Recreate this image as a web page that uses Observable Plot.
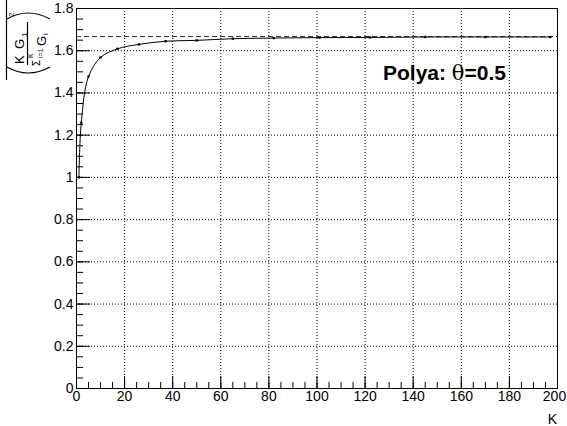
<!DOCTYPE html>
<html><head><meta charset="utf-8">
<script src="https://cdn.jsdelivr.net/npm/d3@7"></script>
<script src="https://cdn.jsdelivr.net/npm/@observablehq/plot@0.6"></script>
<style>body{margin:0;background:#fff;} #chart{position:relative;width:567px;height:426px;}</style>
</head><body><div id="chart"></div>
<script>
// Data
const K = [1, 2, 5, 10, 17, 26, 37, 50, 65, 82, 101, 122, 145, 170, 197];
const ratio = [1.000, 1.259, 1.478, 1.568, 1.609, 1.630, 1.645, 1.649, 1.657, 1.660, 1.662, 1.663, 1.665, 1.665, 1.665];
const limit = [1.667];
const xMajor = [0, 20, 40, 60, 80, 100, 120, 140, 160, 180, 200];
const xMinor = d3.range(0, 41).map(i => i * 5);
const yMajor = [0, 0.2, 0.4, 0.6, 0.8, 1.0, 1.2, 1.4, 1.6, 1.8];
const yMinor = d3.range(0, 37).map(i => +(i * 0.05).toFixed(2));

const W = 567, H = 426, mL = 76, mR = 10, mT = 8, mB = 38;
const font = "'Liberation Sans', Arial, Helvetica, sans-serif";
const data = K.map((k, i) => ({k, v: ratio[i]}));

const plot = Plot.plot({
  width: W, height: H,
  marginLeft: mL, marginRight: mR, marginTop: mT, marginBottom: mB,
  style: {fontFamily: font, fontSize: "14px", color: "#000", background: "#fff", overflow: "visible"},
  x: {domain: [0, 200], label: null},
  y: {domain: [0, 1.8], label: null},
  marks: [
    Plot.ruleX(xMajor.slice(1, -1), {stroke: "#000", strokeWidth: 1, strokeDasharray: "1,2"}),
    Plot.ruleY(yMajor.slice(1, -1), {stroke: "#000", strokeWidth: 1, strokeDasharray: "1,2"}),
    Plot.ruleY(limit, {stroke: "#333", strokeWidth: 1, strokeDasharray: "5,3"}),
    Plot.line(data, {x: "k", y: "v", curve: "catmull-rom", stroke: "#000", strokeWidth: 1}),
    Plot.dot(data, {x: "k", y: "v", r: 1.3, fill: "#000", stroke: "none", symbol: "square"}),
    Plot.frame({stroke: "#000", strokeWidth: 1}),
    Plot.axisX(xMajor, {tickSize: -12, fill: "none", label: null}),
    Plot.axisX(xMinor, {tickSize: -6, fill: "none", label: null}),
    Plot.axisX(xMajor.slice(0, -1), {tickSize: 0, tickPadding: 3, label: null, tickFormat: d => String(d)}),
    Plot.axisX(xMajor.slice(-1), {tickSize: 0, tickPadding: 3, dx: -3, label: null, tickFormat: d => String(d)}),
    Plot.axisY(yMajor, {tickSize: -14, fill: "none", label: null}),
    Plot.axisY(yMinor, {tickSize: -7, fill: "none", label: null}),
    Plot.axisY(yMajor, {tickSize: 0, tickPadding: 3, label: null, tickFormat: d => String(+d.toFixed(2))})
  ]
});

document.getElementById("chart").appendChild(plot);

const svg = d3.select(plot);
const g = svg.append("g").attr("font-family", font).attr("fill", "#000").attr("text-anchor", "start");

// x axis title
g.append("text").attr("x", 557).attr("y", 424).attr("text-anchor", "end")
  .attr("font-size", 14).text("K");

// y axis title (rotated formula)
const deco = g.append("g").attr("stroke", "#000").attr("fill", "none").attr("stroke-width", 1.2);
deco.append("line").attr("x1", 6.5).attr("y1", 0).attr("x2", 6.5).attr("y2", 80);
deco.append("path").attr("d", "M7,19 Q28,7 50,19");
deco.append("path").attr("d", "M7,67 Q28,79 50,67");
deco.append("line").attr("x1", 27.5).attr("y1", 22).attr("x2", 27.5).attr("y2", 65);

function rt(x, y, size, str) {
  return g.append("text").attr("transform", `translate(${x},${y}) rotate(-90)`)
    .attr("font-size", size).text(str);
}
rt(24, 64, 13, "K");
rt(24, 49, 13, "G");
rt(26.5, 37, 8, "1");
rt(40, 66, 10, "Σ");
rt(33, 58, 7, "K");
rt(43, 58, 7, "i=1");
rt(46, 46, 13, "G");
rt(48, 35, 8, "i");
rt(14, 17, 8, "2");

// annotation
const t = g.append("text").attr("x", 383).attr("y", 80).attr("font-size", 21).attr("font-weight", "bold");
t.append("tspan").text("Polya: ");
t.append("tspan").attr("font-weight", "normal").attr("font-family", "'DejaVu Serif', serif").text("θ");
t.append("tspan").text("=0.5");
</script>
</body></html>
